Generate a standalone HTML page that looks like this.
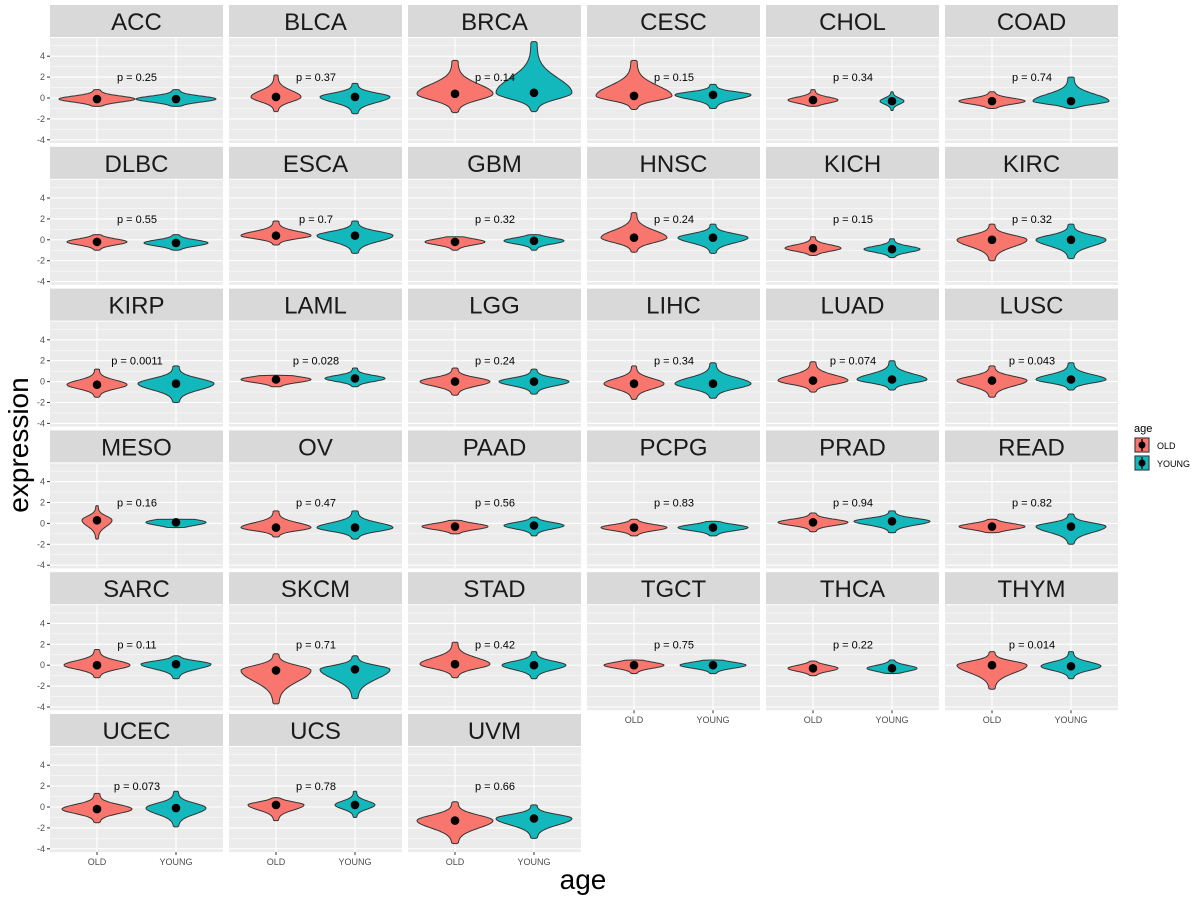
<!DOCTYPE html><html><head><meta charset="utf-8"><style>body{margin:0;background:#fff}svg{display:block;font-family:"Liberation Sans",Arial,sans-serif}</style></head><body>
<svg id="s" width="1200" height="900" xmlns="http://www.w3.org/2000/svg"></svg>
<script>
const D=[
["ACC","0.25",-0.1,-0.8,0.8,38,-0.1,-0.8,0.8,40],
["BLCA","0.37",0.1,-1.3,2.2,25,0.1,-1.5,1.4,35],
["BRCA","0.14",0.4,-1.4,3.6,38,0.5,-1.3,5.4,38],
["CESC","0.15",0.2,-1.1,3.6,38,0.3,-1,1.3,38],
["CHOL","0.34",-0.2,-0.8,0.8,25,-0.3,-1.2,0.6,12],
["COAD","0.74",-0.3,-1,0.6,33,-0.3,-1,2,38],
["DLBC","0.55",-0.2,-1,0.5,30,-0.3,-1,0.5,32],
["ESCA","0.7",0.4,-0.5,1.8,35,0.4,-1.3,1.8,38],
["GBM","0.32",-0.2,-1,0.3,30,-0.1,-1,0.5,30],
["HNSC","0.24",0.2,-1.2,2.6,33,0.2,-1.3,1.5,35],
["KICH","0.15",-0.8,-1.5,0.3,28,-0.9,-1.7,0.1,28],
["KIRC","0.32",0,-2,1.5,35,0,-1.8,1.5,35],
["KIRP","0.0011",-0.3,-1.5,1.2,30,-0.2,-2,1.5,38],
["LAML","0.028",0.2,-0.5,0.6,35,0.3,-0.5,1.3,30],
["LGG","0.24",0,-1.3,1.3,35,0,-1.2,1.2,35],
["LIHC","0.34",-0.2,-1.7,1.5,30,-0.2,-1.6,1.8,38],
["LUAD","0.074",0.1,-1,1.9,35,0.2,-0.8,2,35],
["LUSC","0.043",0.1,-1.5,1.5,35,0.2,-0.8,1.8,35],
["MESO","0.16",0.3,-1.5,1.7,15,0.1,-0.4,0.4,30],
["OV","0.47",-0.4,-1.3,1.2,35,-0.4,-1.5,1.2,38],
["PAAD","0.56",-0.3,-1,0.3,33,-0.2,-1.2,0.6,30],
["PCPG","0.83",-0.4,-1.2,0.4,33,-0.4,-1.2,0.2,35],
["PRAD","0.94",0.1,-0.8,1,35,0.2,-0.9,1.2,38],
["READ","0.82",-0.3,-0.9,0.4,33,-0.3,-2,0.9,35],
["SARC","0.11",0,-1.2,1.5,33,0.1,-1.3,0.9,35],
["SKCM","0.71",-0.5,-3.7,1.1,35,-0.4,-3.2,0.9,35],
["STAD","0.42",0.1,-1.2,2.2,35,0,-1.3,1.3,32],
["TGCT","0.75",0,-0.8,0.5,30,0,-0.8,0.5,33],
["THCA","0.22",-0.3,-1,0.4,25,-0.3,-0.8,0.5,25],
["THYM","0.014",0,-2.3,1.3,35,-0.1,-1.3,1.3,30],
["UCEC","0.073",-0.2,-1.5,1.3,35,-0.1,-1.9,1.5,30],
["UCS","0.78",0.2,-1.3,0.9,28,0.2,-1,1.5,20],
["UVM","0.66",-1.3,-3.5,0.5,38,-1.1,-3,0.2,38]];
let h='';const PW=173;
function violin(cx,Y,m,lo,hi,w,col){let L=[],R=[];const n=50;for(let i=0;i<=n;i++){const v=lo+(hi-lo)*i/n;const s=v<m?Math.max(0.4,(m-lo)*0.45):Math.max(0.4,(hi-m)*0.4);let f=Math.exp(-Math.pow((v-m)/s,2));f=0.08+0.92*f;if(i==0||i==n)f=0.05;const y=Y(v);L.push((cx-w*f).toFixed(1)+','+y.toFixed(1));R.unshift((cx+w*f).toFixed(1)+','+y.toFixed(1));}
return `<polygon points="${L.concat(R).join(' ')}" fill="${col}" stroke="#333" stroke-width="1"/>`;}
D.forEach((d,i)=>{const c=i%6,r=Math.floor(i/6);const x0=50+c*179,st=5+r*141.8;const top=st+33,bot=st+138;const Y=v=>st+93-v*10.45;
h+=`<rect x="${x0}" y="${st}" width="${PW}" height="32" fill="#d9d9d9"/><text x="${x0+PW/2}" y="${st+25}" font-size="24" text-anchor="middle" fill="#1a1a1a">${d[0]}</text>`;
h+=`<rect x="${x0}" y="${top}" width="${PW}" height="${bot-top}" fill="#ebebeb"/>`;
for(let v=-5;v<=5;v++){const y=Y(v);if(y<top||y>bot)continue;h+=`<line x1="${x0}" x2="${x0+PW}" y1="${y}" y2="${y}" stroke="#fff" stroke-width="${v%2==0?1.1:0.5}"/>`;}
const xo=x0+47,xy=x0+126;
h+=`<line x1="${xo}" x2="${xo}" y1="${top}" y2="${bot}" stroke="#fff" stroke-width="1.1"/><line x1="${xy}" x2="${xy}" y1="${top}" y2="${bot}" stroke="#fff" stroke-width="1.1"/>`;
h+=violin(xo,Y,d[2],d[3],d[4],d[5],"#f8766d")+violin(xy,Y,d[6],d[7],d[8],d[9],"#13b8bc");
[[xo,d[2]],[xy,d[6]]].forEach(([x,m])=>{h+=`<line x1="${x}" x2="${x}" y1="${Y(m+0.35)}" y2="${Y(m-0.35)}" stroke="#000" stroke-width="1.5"/><circle cx="${x}" cy="${Y(m)}" r="4.3" fill="#000"/>`;});
h+=`<text x="${x0+87}" y="${Y(2)+4}" font-size="11" text-anchor="middle" fill="#000">p = ${d[1]}</text>`;
if(c==0){for(let v=-4;v<=4;v+=2){h+=`<text x="${x0-5}" y="${Y(v)+3}" font-size="9" text-anchor="end" fill="#4d4d4d">${v}</text><line x1="${x0-3}" x2="${x0}" y1="${Y(v)}" y2="${Y(v)}" stroke="#333"/>`;}}
if(r==5||(r==4&&c>=3)){h+=`<line x1="${xo}" x2="${xo}" y1="${bot}" y2="${bot+3}" stroke="#333"/><line x1="${xy}" x2="${xy}" y1="${bot}" y2="${bot+3}" stroke="#333"/><text x="${xo}" y="${bot+13}" font-size="9" text-anchor="middle" fill="#4d4d4d">OLD</text><text x="${xy}" y="${bot+13}" font-size="9" text-anchor="middle" fill="#4d4d4d">YOUNG</text>`;}
});
h+=`<text transform="translate(28,445) rotate(-90)" font-size="28" text-anchor="middle" fill="#000">expression</text><text x="583" y="889" font-size="28" text-anchor="middle" fill="#000">age</text>`;
h+=`<text x="1134" y="432" font-size="11">age</text>`;
[["OLD","#f8766d",437],["YOUNG","#13b8bc",455]].forEach(([t,c,y])=>{h+=`<rect x="1134" y="${y}" width="16" height="16" fill="#ebebeb"/><rect x="1135" y="${y+1}" width="14" height="14" fill="${c}" stroke="#333"/><line x1="1142" x2="1142" y1="${y+2}" y2="${y+14}" stroke="#000" stroke-width="1.3"/><circle cx="1142" cy="${y+8}" r="3.5" fill="#000"/><text x="1157" y="${y+12}" font-size="9">${t}</text>`;});
document.getElementById('s').innerHTML=h;
</script></body></html>
